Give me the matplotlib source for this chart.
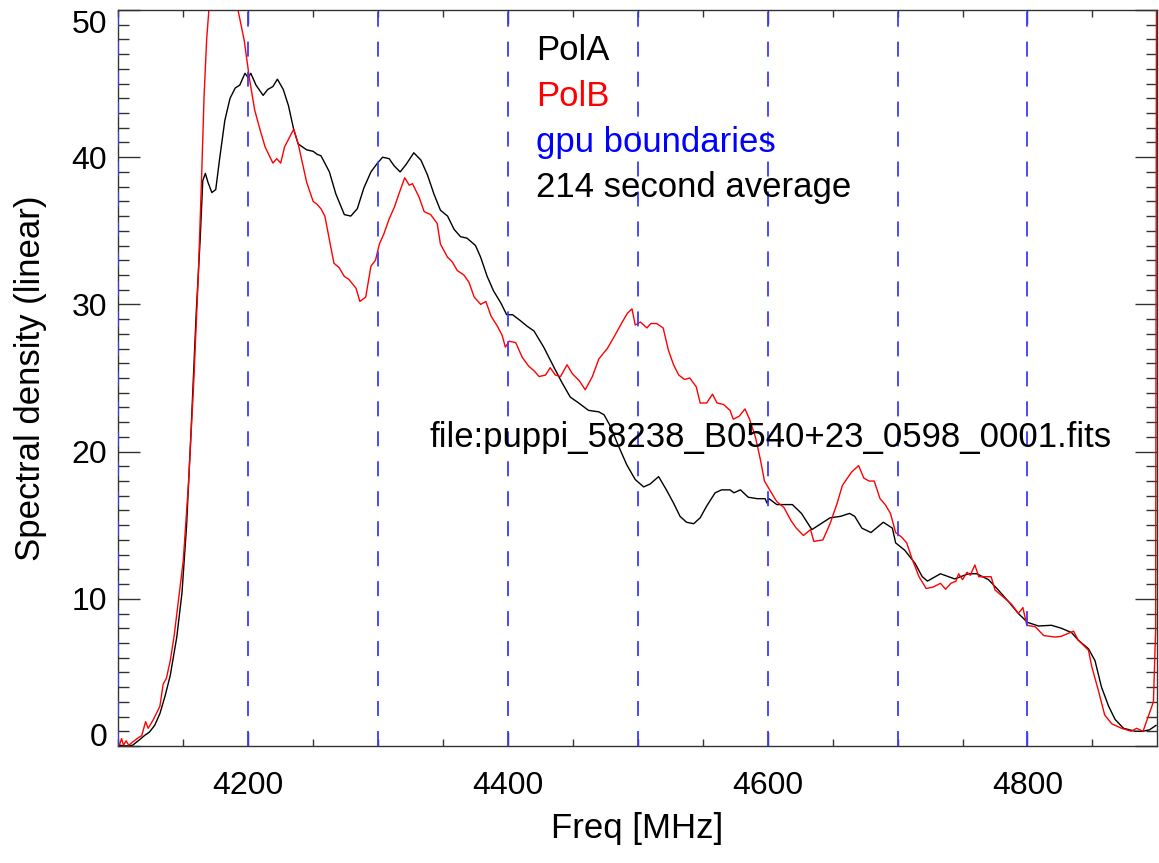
import matplotlib
matplotlib.use("Agg")
import matplotlib.pyplot as plt
from matplotlib.ticker import MultipleLocator

plt.rcParams['font.family'] = ['Liberation Sans', 'DejaVu Sans']

# PolA (black)
freq_a = [4101, 4106, 4111, 4116, 4120, 4124, 4128, 4132, 4136, 4140, 4145, 4149, 4152.5, 4156,
          4160, 4163, 4165, 4167, 4169, 4172, 4175, 4178, 4182, 4186, 4190, 4193.5, 4197.5, 4200,
          4202, 4206, 4211.5, 4215, 4219, 4222.5, 4227, 4231, 4235, 4238.5, 4245, 4250, 4253, 4256,
          4259, 4262.5, 4267.5, 4274, 4279, 4284, 4289, 4294.5, 4299.5, 4303.5, 4308.5, 4312.5,
          4317, 4321.5, 4324.5, 4327.5, 4333, 4338, 4343, 4348, 4353.5, 4358.5, 4363.5, 4368.5,
          4375, 4379, 4384, 4389, 4394.5, 4399, 4403.5, 4409.5, 4415, 4420, 4427.5, 4435, 4441.5,
          4448, 4454.5, 4462, 4470, 4474, 4479, 4485, 4491.5, 4498, 4504.5, 4509.5, 4516, 4522,
          4527.5, 4532.5, 4537.5, 4543, 4548, 4553, 4559.5, 4564.5, 4571, 4574, 4579, 4585, 4592,
          4598, 4599.5, 4601, 4607, 4619, 4626, 4634, 4641, 4648, 4656, 4663, 4667, 4672.5, 4679.5,
          4689, 4696, 4698.5, 4705.5, 4713.5, 4719, 4723, 4733, 4744, 4754.5, 4761, 4770, 4777.5,
          4785.5, 4793, 4800, 4808.5, 4818.5, 4826, 4834, 4839, 4847, 4852, 4857, 4862.5, 4867.5,
          4874, 4883, 4889, 4894, 4899]
pol_a = [0.05, 0.0, 0.05, 0.4, 0.7, 0.95, 1.4, 2.2, 3.4, 4.8, 7.4, 10.4, 14.9, 21.4,
         29.5, 34.4, 38.4, 38.9, 38.3, 37.6, 37.8, 39.9, 42.5, 44.0, 44.7, 44.9, 45.7, 45.4,
         45.7, 44.9, 44.2, 44.6, 44.8, 45.3, 44.6, 43.5, 41.9, 40.9, 40.5, 40.4, 40.2, 40.1,
         39.6, 39.0, 37.5, 36.1, 36.0, 36.5, 37.9, 39.0, 39.6, 40.0, 39.9, 39.4,
         39.0, 39.5, 39.9, 40.3, 39.8, 38.8, 37.5, 36.4, 36.0, 35.1, 34.6, 34.5,
         34.0, 33.2, 31.9, 30.9, 30.1, 29.3, 29.3, 28.9, 28.5, 28.2, 27.1, 25.8, 24.7,
         23.7, 23.3, 22.8, 22.7, 22.5, 21.7, 20.4, 19.1, 18.1, 17.6, 17.8, 18.3, 17.4,
         16.5, 15.6, 15.2, 15.1, 15.5, 16.3, 17.2, 17.4, 17.4, 17.2, 17.4, 16.9, 16.8,
         16.8, 16.5, 16.8, 16.4, 16.4, 15.8, 14.7, 15.1, 15.5, 15.6, 15.8, 15.6, 14.8, 14.5,
         15.2, 14.8, 13.8, 13.3, 12.4, 11.5, 11.2, 11.7, 11.35, 11.7, 11.7, 11.3, 10.6,
         9.8, 9.0, 8.4, 8.15, 8.2, 8.0, 7.7, 7.2, 6.6, 5.8, 4.0, 2.7, 1.8,
         1.2, 1.0, 1.0, 1.1, 1.4]

# PolB (red)
freq_b = [4101, 4102.5, 4104, 4106, 4108, 4110, 4113, 4116, 4118, 4121, 4123, 4127, 4132, 4134.5,
          4137, 4140, 4143, 4146, 4150, 4154, 4158, 4161.5, 4164, 4166, 4168, 4171, 4176, 4181,
          4186, 4191, 4197, 4201, 4205, 4209, 4213, 4219, 4222, 4225, 4228, 4235, 4238.5, 4245,
          4250, 4253, 4256, 4259, 4262.5, 4266, 4270, 4274, 4277.5, 4283, 4286, 4290.5, 4294.5,
          4298, 4301, 4304.5, 4308.5, 4312.5, 4316, 4320.5, 4324, 4326.5, 4331.5, 4335.5, 4340.5,
          4345.5, 4348, 4353.5, 4357, 4361, 4366, 4370, 4374, 4379, 4383, 4387, 4392, 4395.5,
          4398, 4401, 4406, 4411, 4416, 4420, 4424, 4429, 4432.5, 4436.5, 4440.5, 4445.5, 4449.5,
          4455, 4459.5, 4465, 4470, 4476.5, 4483, 4488, 4492, 4495.5, 4498, 4502, 4507, 4510,
          4514.5, 4519.5, 4523.5, 4527.5, 4531.5, 4536, 4540, 4545, 4548, 4553, 4557.5, 4561,
          4566, 4571, 4573.5, 4578, 4582.5, 4586, 4590.5, 4594.5, 4597.5, 4601.5, 4607, 4612.5,
          4618, 4622, 4627.5, 4633, 4635.5, 4642.5, 4648, 4653.5, 4657.5, 4664.5, 4670, 4674,
          4678, 4682, 4686.5, 4690.5, 4694.5, 4698.5, 4703, 4707, 4711, 4716.5, 4722, 4727.5,
          4733, 4737, 4741, 4745, 4747, 4750, 4753.5, 4756, 4759.5, 4762.5, 4772, 4775, 4783,
          4788, 4793, 4796.5, 4799.5, 4806, 4812.5, 4821.5, 4826, 4831.5, 4835.5, 4839, 4847,
          4849.5, 4854.5, 4859.5, 4865, 4872.5, 4880, 4884, 4889, 4893, 4897, 4898.7, 4899.4]
pol_b = [0.1, 0.5, 0.05, 0.35, 0.05, 0.2, 0.4, 0.6, 0.7, 1.65, 1.2, 1.8, 2.7, 4.2,
         4.6, 5.8, 7.5, 9.7, 12.6, 17.8, 24.6, 31.8, 38.3, 44.1, 48.0, 51.5, 54.5, 55.0,
         53.5, 50.5, 47.9, 45.3, 43.2, 41.9, 40.7, 39.6, 39.9, 39.6, 40.7, 41.9, 40.9, 38.3,
         37.0, 36.8, 36.5, 36.0, 34.4, 32.8, 32.5, 31.9, 31.7, 31.1, 30.2, 30.5, 32.6,
         33.0, 34.1, 34.8, 35.8, 36.6, 37.5, 38.6, 38.1, 38.2, 37.3, 36.3, 36.1,
         35.5, 34.1, 33.2, 32.9, 32.3, 32.0, 31.5, 30.5, 30.0, 30.2, 29.2, 28.5, 27.9,
         27.1, 27.5, 27.4, 26.4, 25.8, 25.5, 25.1, 25.2, 25.7, 25.2, 25.1, 25.9, 25.3,
         24.8, 24.2, 25.1, 26.3, 27.0, 28.0, 28.8, 29.4, 29.7, 28.6, 28.8, 28.4, 28.7,
         28.7, 28.4, 26.9, 25.9, 25.2, 24.9, 25.0, 24.4, 23.3, 23.3, 23.9, 23.3,
         23.2, 22.8, 22.2, 22.4, 22.9, 22.2, 21.0, 19.4, 18.0, 17.4, 16.6, 16.2,
         15.3, 14.8, 14.3, 14.7, 13.9, 14.0, 15.1, 16.5, 17.7, 18.6, 19.05, 18.2,
         18.0, 18.0, 16.8, 16.4, 15.8, 14.5, 14.2, 13.8, 12.75, 11.5, 10.7, 10.8,
         11.05, 10.65, 11.05, 11.2, 11.7, 11.3, 11.8, 11.6, 12.3, 11.5, 11.5, 10.6, 10.0,
         9.6, 9.0, 9.4, 8.2, 8.1, 7.5, 7.4, 7.45, 7.65, 7.8, 7.2, 6.5,
         5.4, 3.8, 2.1, 1.5, 1.2, 1.0, 1.2, 1.0, 2.0, 3.0, 7.9, 55.0]

gpu_bounds = [4100, 4200, 4300, 4400, 4500, 4600, 4700, 4800]
legend_lines = ['PolA', 'PolB', 'gpu boundaries', '214 second average']
legend_colors = ['black', 'red', 'blue', 'black']
file_label = 'file:puppi_58238_B0540+23_0598_0001.fits'

fig = plt.figure(figsize=(11.59, 8.63), dpi=100)
ax = fig.add_axes([0.1021, 0.1356, 0.8959, 0.8528])

ax.plot(freq_a, pol_a, color='black', lw=1.0)
ax.plot(freq_b, pol_b, color='red', lw=1.0)

# gpu boundaries, dashes ~15px on / 15px off
for f in gpu_bounds:
    ax.plot([f, f], [0, 50], color='#3b3bff', lw=1.3, ls=(0, (8.3, 8.3)), zorder=3)

ax.set_xlim(4100, 4899.5)
ax.set_ylim(0, 50)

ax.set_xticks([4200, 4400, 4600, 4800])
ax.xaxis.set_minor_locator(MultipleLocator(50))
ax.set_yticks([0, 10, 20, 30, 40, 50], ['0', '10', '20', '30', '40', '50'])
ax.yaxis.set_minor_locator(MultipleLocator(1))

ax.tick_params(which='both', direction='in', top=True, right=True, color='#333333', width=1.0)
ax.tick_params(axis='x', which='major', length=10, labelsize=23, pad=18)
ax.tick_params(axis='x', which='minor', length=5)
ax.tick_params(axis='y', which='major', length=15.5, labelsize=23, pad=8)
ax.tick_params(axis='y', which='minor', length=8)

# IDL keeps the end labels inside the axis range
ylabels = ax.get_yticklabels()
ylabels[0].set_va('baseline')
ylabels[-1].set_va('top')

for sp in ax.spines.values():
    sp.set_linewidth(1.0)
    sp.set_color('#333333')

ax.set_xlabel('Freq [MHz]', fontsize=25, labelpad=8)
ax.set_ylabel('Spectral density (linear)', fontsize=25, labelpad=18)

ys = [46.57, 43.48, 40.37, 37.28]
for txt, c, y in zip(legend_lines, legend_colors, ys):
    ax.text(4421.5, y, txt, color=c, fontsize=25, va='baseline', ha='left')
ax.text(4339.5, 20.33, file_label, color='black', fontsize=25, va='baseline', ha='left')

fig.savefig('out.png', dpi=100)
